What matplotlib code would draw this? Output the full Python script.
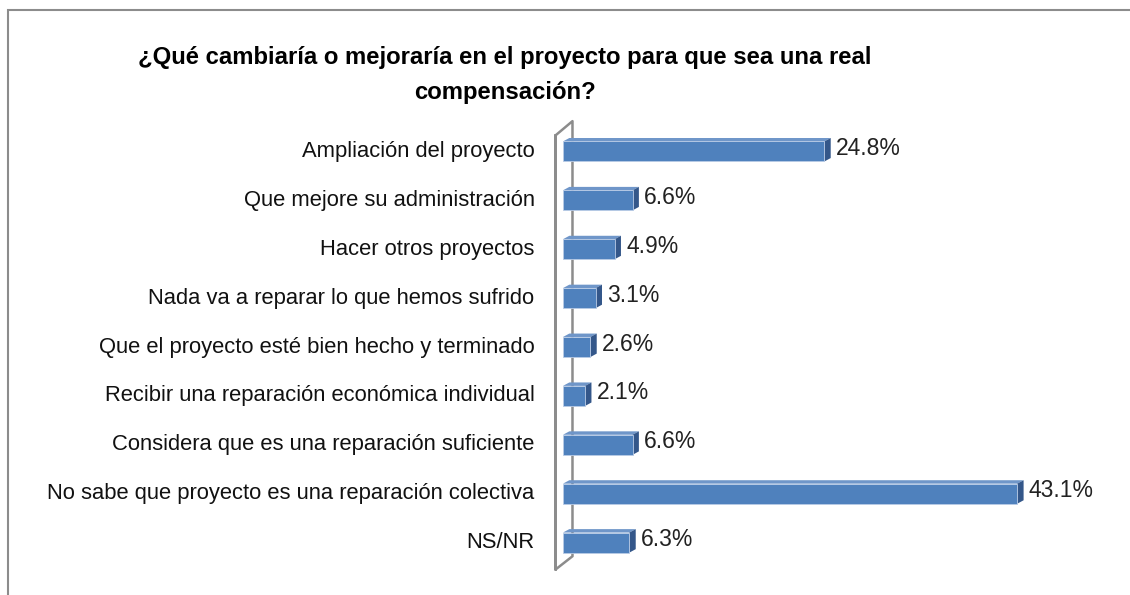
import matplotlib
matplotlib.use("Agg")
import matplotlib.pyplot as plt
from matplotlib.patches import Polygon, Rectangle

# datos de la encuesta
categorias = [
    "Ampliación del proyecto",
    "Que mejore su administración",
    "Hacer otros proyectos",
    "Nada va a reparar lo que hemos sufrido",
    "Que el proyecto esté bien hecho y terminado",
    "Recibir una reparación económica individual",
    "Considera que es una reparación suficiente",
    "No sabe que proyecto es una reparación colectiva",
    "NS/NR",
]
valores = [24.8, 6.6, 4.9, 3.1, 2.6, 2.1, 6.6, 43.1, 6.3]
etiquetas = ["24.8%", "6.6%", "4.9%", "3.1%", "2.6%", "2.1%", "6.6%", "43.1%", "6.3%"]
titulo = "¿Qué cambiaría o mejoraría en el proyecto para que sea una real\ncompensación?"

fuente = ["Liberation Sans", "DejaVu Sans"]
frente = "#4f81bd"
lado = "#34578a"
arriba = "#6f96c9"

fig = plt.figure(figsize=(11.3, 5.95), dpi=100)
# marco del grafico
fig.patches.append(Rectangle((8 / 1130, -0.05), 1.1, 1 - 10 / 595 + 0.05,
                             transform=fig.transFigure, fill=False,
                             edgecolor="#8c8c8c", linewidth=1.5))

ax = fig.add_axes([563 / 1130, 28 / 595, 527 / 1130, 440 / 595])
ax.set_xlim(0, 50)
ax.set_ylim(len(categorias) - 0.5, -0.5)
ax.axis("off")

h = 0.41
dx = 0.6
dy = 0.07
ys = list(range(len(categorias)))
ax.barh(ys, valores, height=h, color=frente, edgecolor="#b9cbe6", linewidth=0.6, zorder=3)
for y, v, t in zip(ys, valores, etiquetas):
    top = y - h / 2
    bot = y + h / 2
    ax.add_patch(Polygon([(0, top), (v, top), (v + dx, top - dy), (dx, top - dy)],
                         closed=True, facecolor=arriba, edgecolor="none", zorder=2))
    ax.add_patch(Polygon([(v, top), (v + dx, top - dy), (v + dx, bot - dy), (v, bot)],
                         closed=True, facecolor=lado, edgecolor="none", zorder=2))
    ax.text(v + dx + 0.5, y - 0.06, t, ha="left", va="center", fontsize=16.5,
            family=fuente, color="#222222")

# pared lateral 3D
n = len(categorias)
wx0, wx1 = -0.7, 0.9
ax.plot([wx0, wx0, wx1, wx1, wx0, wx0],
        [-0.33, n - 0.5 + 0.05, n - 0.5 - 0.22, -0.62, -0.33, n - 0.5 + 0.05],
        color="#8c8c8c", linewidth=1.8, clip_on=False, zorder=1)

for y, c in zip(ys, categorias):
    ax.text(-2.7, y, c, ha="right", va="center", fontsize=15.8, family=fuente, color="#111111")

fig.text(505 / 1130, 1 - 75 / 595, titulo, ha="center", va="center", fontsize=17.2,
         fontweight="bold", family=fuente, linespacing=1.65)

fig.savefig("out.png", dpi=100, facecolor="white")
